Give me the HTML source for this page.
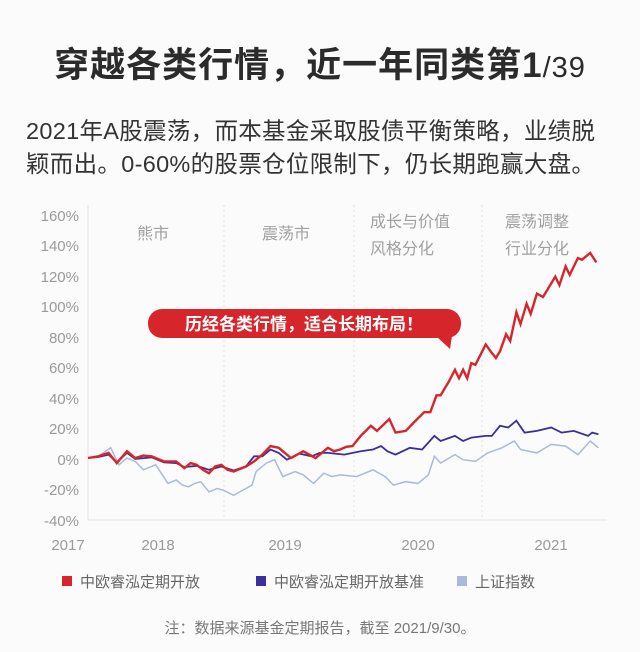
<!DOCTYPE html>
<html><head><meta charset="utf-8">
<style>
html,body{margin:0;padding:0;background:#fbfbfb;}
body{width:640px;height:652px;position:relative;overflow:hidden;font-family:"Liberation Sans","Noto Sans CJK SC",sans-serif;color:#333;}
.t{position:absolute;white-space:nowrap;}
</style></head><body>
<div class="t" style="left:0;width:640px;text-align:center;top:37px;font-size:35px;font-weight:bold;color:#2b2b2b;letter-spacing:1px;">穿越各类行情，近一年同类第1<span style="font-weight:normal;font-size:29px;">/39</span></div>
<div class="t" style="left:26px;top:112px;font-size:23.5px;color:#333;letter-spacing:0.3px;">2021年A股震荡，而本基金采取股债平衡策略，业绩脱</div>
<div class="t" style="left:26px;top:145px;font-size:23.5px;color:#333;letter-spacing:0.3px;">颖而出。0-60%的股票仓位限制下，仍长期跑赢大盘。</div>

<svg width="640" height="652" style="position:absolute;left:0;top:0" xmlns="http://www.w3.org/2000/svg">
<g stroke="#e3e3e3" stroke-width="1">
<line x1="88" y1="205" x2="88" y2="520"/>
<line x1="88" y1="520" x2="607" y2="520"/>
</g>
<g stroke="#e0e0e0" stroke-width="1" stroke-dasharray="2,3">
<line x1="224" y1="205" x2="224" y2="520"/>
<line x1="354" y1="205" x2="354" y2="520"/>
<line x1="482" y1="205" x2="482" y2="520"/>
</g>
<g font-size="15" fill="#9a9a9a" text-anchor="end" font-family="Liberation Sans, sans-serif">
<text x="79" y="221">160%</text><text x="79" y="251">140%</text><text x="79" y="282">120%</text>
<text x="79" y="312">100%</text><text x="79" y="343">80%</text><text x="79" y="373">60%</text>
<text x="79" y="404">40%</text><text x="79" y="434">20%</text><text x="79" y="465">0%</text>
<text x="79" y="495">-20%</text><text x="79" y="526">-40%</text>
</g>
<g font-size="15" fill="#9a9a9a" text-anchor="middle" font-family="Liberation Sans, sans-serif">
<text x="68" y="550">2017</text><text x="158" y="550">2018</text><text x="285" y="550">2019</text>
<text x="418" y="550">2020</text><text x="551" y="550">2021</text>
</g>
<g font-size="16" fill="#a0a0a0" font-family="Liberation Sans, Noto Sans CJK SC, sans-serif">
<text x="137" y="239">熊市</text><text x="262" y="239">震荡市</text>
<text x="370" y="227">成长与价值</text><text x="370" y="254">风格分化</text>
<text x="505" y="227">震荡调整</text><text x="505" y="254">行业分化</text>
</g>
<polyline id="lb" fill="none" stroke="#a9b9dc" stroke-width="1.5"/>
<polyline id="db" fill="none" stroke="#3a2f9c" stroke-width="1.8"/>
<polyline id="rd" fill="none" stroke="#d7262b" stroke-width="2.4"/>
<rect x="148" y="309" width="313" height="29" rx="14" fill="#d7262b"/>
<polygon points="436,336 452,336 450,349" fill="#d7262b"/>
<text x="304" y="330" text-anchor="middle" font-size="17" font-weight="bold" fill="#fff" font-family="Liberation Sans, Noto Sans CJK SC, sans-serif">历经各类行情，适合长期布局！</text>
<rect x="62" y="576" width="10" height="10" fill="#d7262b"/>
<rect x="256" y="576" width="10" height="10" fill="#3a2f9c"/>
<rect x="457" y="576" width="10" height="10" fill="#a9b9dc"/>
<g font-size="15" fill="#666" font-family="Liberation Sans, Noto Sans CJK SC, sans-serif">
<text x="80" y="587">中欧睿泓定期开放</text>
<text x="274" y="587">中欧睿泓定期开放基准</text>
<text x="475" y="587">上证指数</text>
</g>
<text x="320" y="633" text-anchor="middle" font-size="15" fill="#777" font-family="Liberation Sans, Noto Sans CJK SC, sans-serif">注：数据来源基金定期报告，截至 2021/9/30。</text>
</svg>
<script>
function tr(a){var s=[];for(var i=0;i<a.length;i+=2){s.push((a[i]/2.44).toFixed(1)+","+(459-(808-a[i+1])*0.339).toFixed(1));}return s.join(" ");}
var red=[215,805,240,800,265,790,285,820,310,785,330,805,350,798,370,800,400,815,430,815,450,835,465,820,480,825,495,840,510,850,525,830,540,825,555,840,570,845,600,830,620,815,640,795,660,770,680,775,710,805,740,785,770,805,785,790,800,775,815,785,830,780,845,772,860,770,880,740,905,710,920,725,950,690,965,730,990,725,1010,700,1035,670,1050,670,1065,620,1075,620,1095,580,1110,545,1120,570,1130,545,1140,570,1150,525,1160,530,1185,470,1200,495,1210,510,1220,490,1235,440,1245,460,1260,375,1270,410,1285,350,1295,380,1310,320,1325,330,1355,270,1365,295,1380,240,1390,265,1410,215,1420,220,1440,200,1455,228];
var db=[215,805,240,802,265,795,285,818,310,790,330,808,370,803,400,818,430,820,450,832,480,828,510,840,540,830,570,842,600,830,620,800,640,800,660,780,680,790,700,810,730,792,760,800,780,790,800,790,840,795,880,785,910,780,930,770,945,785,965,795,1000,775,1030,780,1060,740,1075,755,1110,740,1130,755,1150,745,1185,740,1200,740,1220,710,1240,715,1260,695,1280,730,1310,725,1345,715,1370,730,1400,725,1435,740,1445,730,1460,735];
var lb=[215,805,240,800,270,775,290,825,310,805,330,815,350,840,380,825,410,880,430,870,445,885,460,890,475,880,490,875,510,905,530,895,545,900,570,915,600,895,615,885,625,845,650,820,670,810,690,860,720,845,740,855,765,880,790,850,810,860,830,855,870,860,910,840,940,860,960,885,990,875,1020,880,1045,855,1060,800,1075,820,1110,795,1130,810,1160,815,1190,790,1225,775,1255,755,1270,780,1310,790,1345,765,1380,770,1410,795,1440,755,1460,775];
document.getElementById('rd').setAttribute('points',tr(red));
document.getElementById('db').setAttribute('points',tr(db));
document.getElementById('lb').setAttribute('points',tr(lb));
</script>
</body></html>
